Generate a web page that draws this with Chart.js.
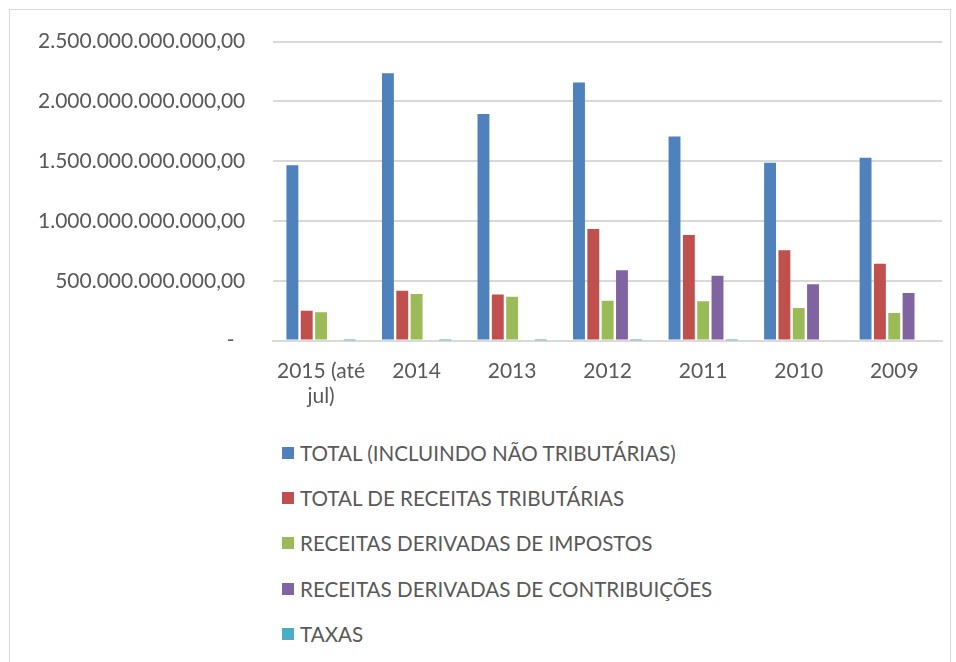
<!DOCTYPE html>
<html>
<head>
<meta charset="utf-8">
<script src="https://cdn.jsdelivr.net/npm/chart.js@4"></script>
<style>
  body { margin: 0; background: #fff; width: 956px; height: 662px; overflow: hidden; font-family: Lato, sans-serif; }
  #frame { position: absolute; left: 9px; top: 9px; width: 940px; height: 670px; border: 1px solid #d9d9d9; }
  #wrap { position: absolute; left: 10px; top: 1px; width: 940px; height: 418px; }
  #legend { position: absolute; left: 282px; top: 430px; margin: 0; padding: 0; list-style: none; }
  #legend li { height: 45.4px; display: flex; align-items: center; font-size: 20.6px; color: #595959; }
  #legend span.box { display: inline-block; width: 12px; height: 12px; margin-right: 6px; }
</style>
</head>
<body>
<div id="frame"></div>
<div id="wrap"><canvas id="myChart"></canvas></div>
<ul id="legend"></ul>
<script>
// Categories (x axis)
const categorias = [["2015 (até", "jul)"], "2014", "2013", "2012", "2011", "2010", "2009"];

// Series values, in billions of reais
const totalGeral = [1467, 2236, 1894, 2158, 1706, 1486, 1528];
const totalTributarias = [250, 416, 386, 933, 883, 756, 642];
const impostos = [236, 389, 367, 333, 328, 272, 231];
const contribuicoes = [0, 10, 9, 589, 542, 472, 397];
const taxas = [1, 1, 1, 1, 1, 0, 0];

const nomes = [
  "TOTAL (INCLUINDO NÃO TRIBUTÁRIAS)",
  "TOTAL DE RECEITAS TRIBUTÁRIAS",
  "RECEITAS DERIVADAS DE IMPOSTOS",
  "RECEITAS DERIVADAS DE CONTRIBUIÇÕES",
  "TAXAS",
];
const cores = ["#4f81bd", "#c0504d", "#9bbb59", "#8064a2", "#4bacc6"];
const series = [totalGeral, totalTributarias, impostos, contribuicoes, taxas];

const bi = 1000000000;

const data = {
  labels: categorias,
  datasets: series.map(function (s, i) {
    return {
      label: nomes[i],
      data: s.map(function (v) { return v * bi; }),
      backgroundColor: cores[i],
      categoryPercentage: 0.75,
      barPercentage: 0.83,
    };
  }),
};

function formatoBR(v) {
  if (v === 0) return "-  ";
  return v.toLocaleString("pt-BR", { minimumFractionDigits: 2, maximumFractionDigits: 2 });
}

const fonte = { family: "Lato, sans-serif", size: 21 };

const config = {
  type: "bar",
  data: data,
  options: {
    responsive: true,
    maintainAspectRatio: false,
    animation: false,
    layout: { padding: { left: 0, right: 8, top: 6, bottom: 0 } },
    plugins: {
      legend: { display: false },
      tooltip: { enabled: false },
    },
    scales: {
      x: {
        grid: { display: false },
        border: { color: "#d9d9d9", width: 2 },
        ticks: { color: "#595959", font: fonte, padding: 10, maxRotation: 0 },
      },
      y: {
        min: 0,
        max: 2500 * bi,
        border: { display: false },
        grid: { color: "#d9d9d9", lineWidth: 2, drawTicks: false },
        ticks: {
          stepSize: 500 * bi,
          color: "#595959",
          font: fonte,
          padding: 28,
          callback: function (v) { return formatoBR(v); },
        },
      },
    },
  },
};

// Legend in one column under the chart
const legenda = document.getElementById("legend");
nomes.forEach(function (n, i) {
  const li = document.createElement("li");
  li.innerHTML = '<span class="box" style="background:' + cores[i] + '"></span>' + n;
  legenda.appendChild(li);
});

let myChart = new Chart(document.getElementById("myChart"), config);
</script>
</body>
</html>
